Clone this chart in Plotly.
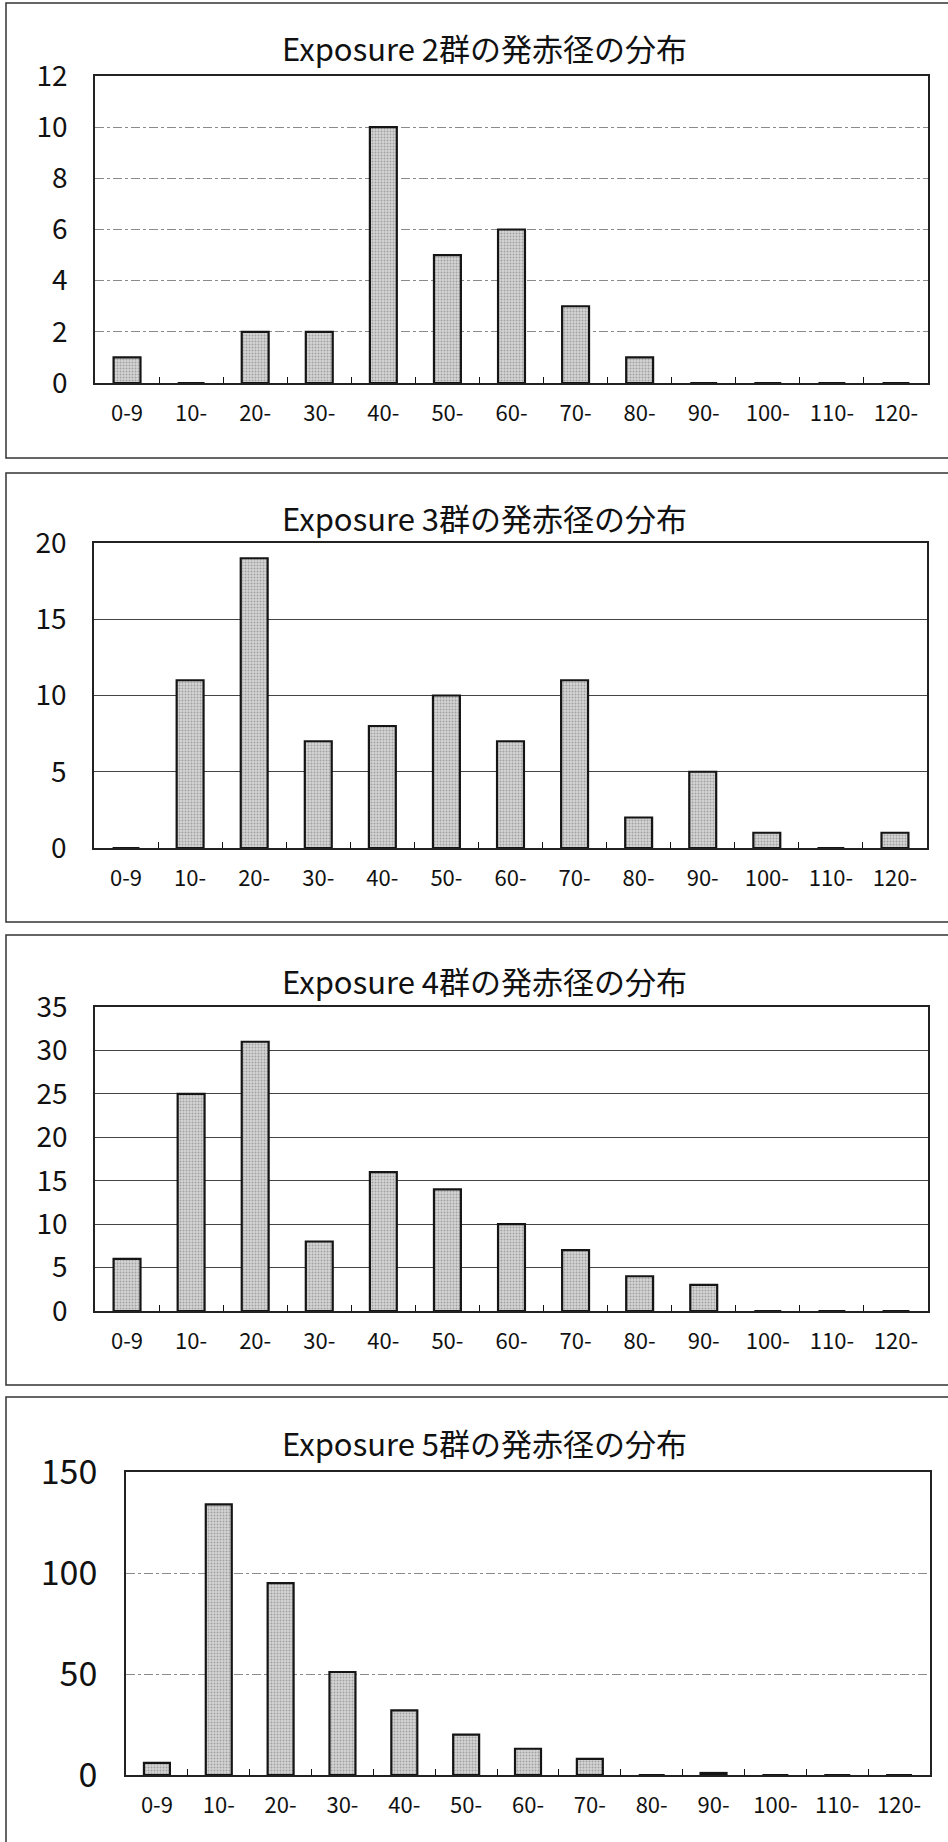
import plotly.graph_objects as go

W, H = 948, 1842

# Diameter classes (mm) shared by all four histograms
categories = ["0-9", "10-", "20-", "30-", "40-", "50-", "60-", "70-", "80-", "90-", "100-", "110-", "120-"]

# Counts per exposure group
group_names = ["2", "3", "4", "5"]
counts_group2 = [1, 0, 2, 2, 10, 5, 6, 3, 1, 0, 0, 0, 0]
counts_group3 = [0, 11, 19, 7, 8, 10, 7, 11, 2, 5, 1, 0, 1]
counts_group4 = [6, 25, 31, 8, 16, 14, 10, 7, 4, 3, 0, 0, 0]
counts_group5 = [6, 134, 95, 51, 32, 20, 13, 8, 0, 1, 0, 0, 0]
y_max = [12, 20, 35, 150]
y_step = [2, 5, 5, 50]

all_counts = [counts_group2, counts_group3, counts_group4, counts_group5]

# Pixel geometry of each panel: plot area (left, right, top, bottom),
# surrounding frame (top, bottom), title centre y, y tick font size, grid style
panels = [
    dict(plot=(95, 928, 76, 383), frame=(3, 458), title_y=47, yfont=28,
         grid=dict(color="#8a8a8a", dash="dashdot")),
    dict(plot=(94, 927, 543, 848), frame=(473, 922), title_y=517, yfont=28,
         grid=dict(color="#444444", dash="solid")),
    dict(plot=(95, 928, 1007, 1311), frame=(935, 1385), title_y=980, yfont=28,
         grid=dict(color="#444444", dash="solid")),
    dict(plot=(126, 930, 1472, 1775), frame=(1397, 1860), title_y=1442, yfont=34,
         grid=dict(color="#8a8a8a", dash="dashdot")),
]

FONT = "Noto Sans CJK JP"

fig = go.Figure()
layout = dict(
    width=W, height=H, autosize=False,
    margin=dict(l=0, r=0, t=0, b=0),
    paper_bgcolor="white", plot_bgcolor="white",
    showlegend=False, bargap=0.58,
    font=dict(family=FONT, color="#111111"),
    shapes=[], annotations=[],
)

for i, (name, counts, p) in enumerate(zip(group_names, all_counts, panels)):
    n = "" if i == 0 else str(i + 1)
    xa, ya = "x" + n, "y" + n
    l, r, t, b = p["plot"]
    fig.add_trace(go.Bar(
        x=categories, y=counts, xaxis=xa, yaxis=ya,
        marker=dict(
            color="#c8c8c8",
            line=dict(color="#151515", width=2.2),
            pattern=dict(shape=".", fgcolor="#6e6e6e", bgcolor="#d4d4d4",
                         size=3, solidity=0.35, fillmode="overlay"),
        ),
        hoverinfo="x+y",
    ))
    layout["xaxis" + n] = dict(
        domain=[l / W, r / W], anchor=ya, type="category",
        range=[-0.5, len(categories) - 0.5],
        tickson="boundaries", ticks="inside", ticklen=6, tickwidth=1.3,
        tickcolor="#111111",
        showline=True, linecolor="#222222", linewidth=1.8, mirror=True,
        showgrid=False, zeroline=False, automargin=False,
        tickfont=dict(family=FONT, size=22, color="#111111"),
        ticklabelstandoff=10,
    )
    layout["yaxis" + n] = dict(
        domain=[1 - b / H, 1 - t / H], anchor=xa,
        range=[0, y_max[i]],
        tickvals=list(range(0, y_max[i] + 1, y_step[i])),
        showgrid=True, gridcolor=p["grid"]["color"], griddash=p["grid"]["dash"],
        gridwidth=1.2,
        showline=True, linecolor="#222222", linewidth=1.8, mirror=True,
        zeroline=False, ticks="", automargin=False,
        tickfont=dict(family=FONT, size=p["yfont"], color="#111111"),
        ticklabelstandoff=20,
    )
    ft, fb = p["frame"]
    layout["shapes"].append(dict(
        type="rect", xref="paper", yref="paper",
        x0=6 / W, x1=1.02, y0=1 - fb / H, y1=1 - ft / H,
        line=dict(color="#333333", width=1.5), fillcolor="rgba(0,0,0,0)",
        layer="below",
    ))
    layout["annotations"].append(dict(
        text=f"Exposure {name}群の発赤径の分布",
        xref="paper", yref="paper", x=484 / W, y=1 - p["title_y"] / H,
        xanchor="center", yanchor="middle", showarrow=False,
        font=dict(family=FONT, size=31, color="#111111"),
    ))

fig.update_layout(**layout)
fig.write_html("out.html")
